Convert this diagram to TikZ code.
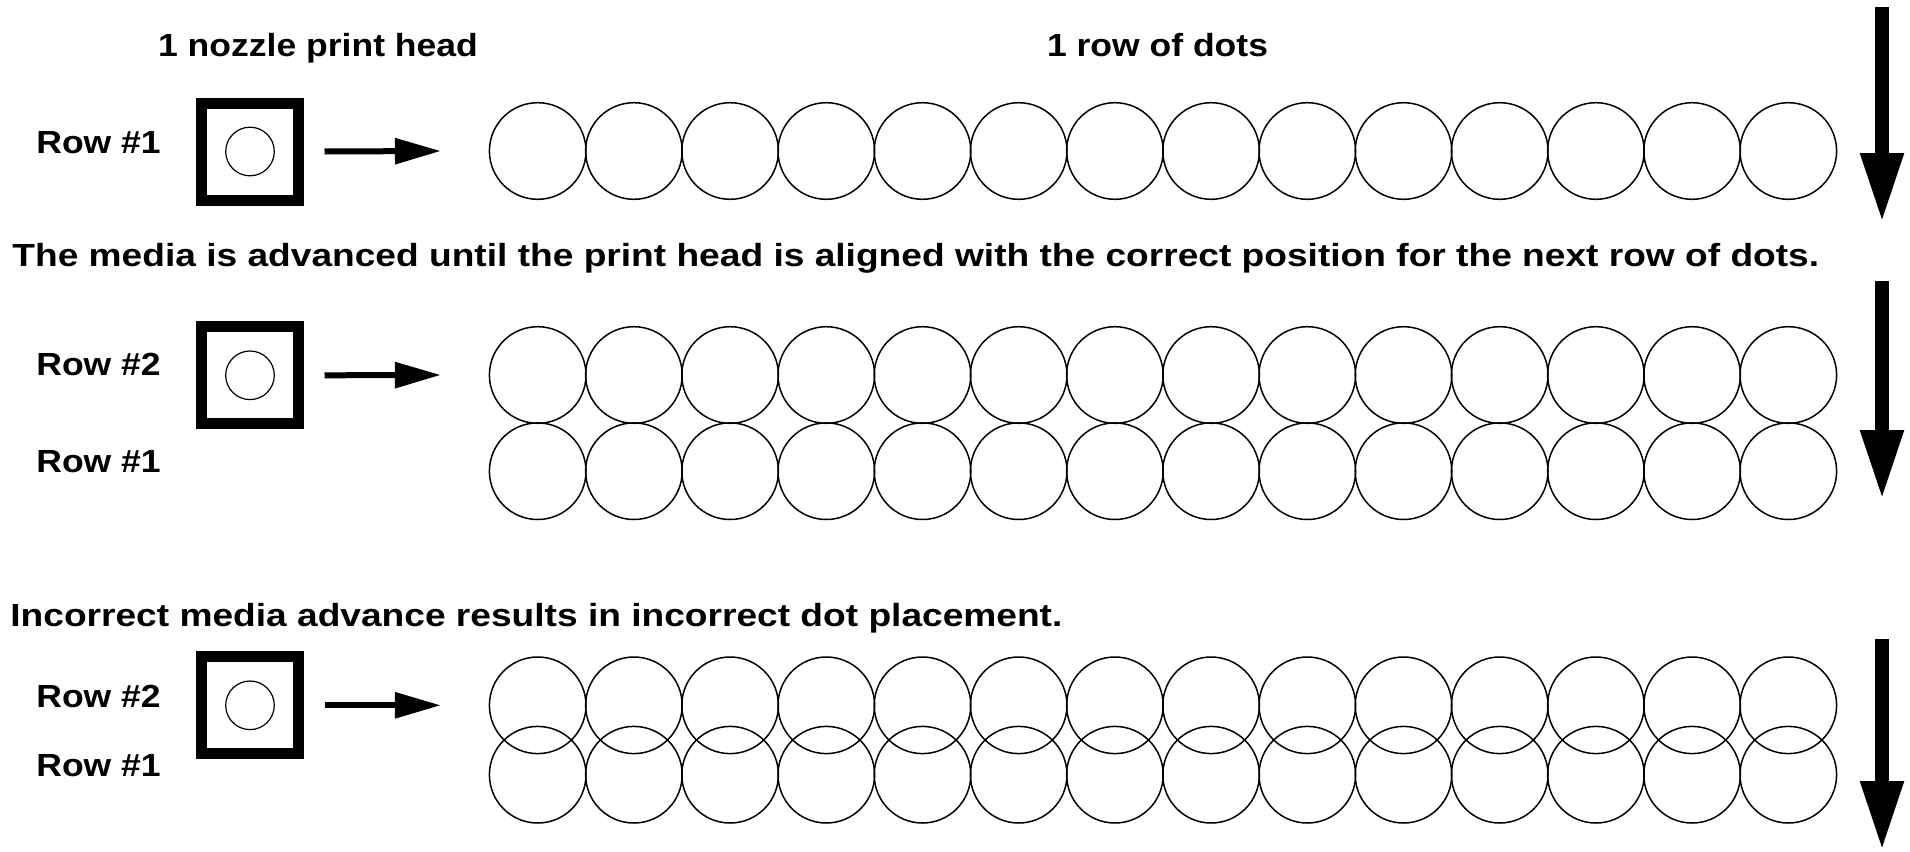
\documentclass[tikz,border=0pt]{standalone}
\usepackage{fontspec}
\setmainfont{Liberation Sans}
\usetikzlibrary{arrows.meta}
\newcommand{\wide}[1]{\scalebox{1.11}[1]{#1}}
\newcommand{\wider}[1]{\scalebox{1.16}[1]{#1}}
\tikzset{
 headbox/.style={draw, line width=5.5pt, minimum size=48.5pt, inner sep=0pt},
 nozzle/.style={draw, circle, line width=0.6pt, minimum size=24.3pt, inner sep=0pt},
 dot/.style={draw, circle, line width=0.75pt, minimum size=48.3pt, inner sep=0pt},
 feed/.style={line width=3pt, -{Triangle[length=23pt,width=12.5pt]}},
 advance/.style={line width=7pt, -{Triangle[length=35pt,width=20pt]}},
 lbl/.style={font=\fontsize{16}{19}\selectfont\bfseries, inner sep=0pt},
}
\begin{document}
\begin{tikzpicture}[x=0.5pt,y=-0.5pt]
\fill[white] (0,0) rectangle (1910,851);
\useasboundingbox (0,0) rectangle (1910,851);
% titles
\node[lbl, anchor=base] (t1) at (318,56) {\wide{1 nozzle print head}};
\node[lbl, anchor=base] (t2) at (1157.5,56) {\wide{1 row of dots}};
% ---- section 1
\node[headbox] (h1) at (250,151.5) {};
\node[nozzle] (n1) at (h1.center) {};
\node[lbl, anchor=base west] (r1a) at (36,153.5) {\wide{Row \#1}};
\foreach \k in {0,...,13} \node[dot] (a\k) at ({537.7+96.2*\k},151) {};
\draw[feed] ([xshift=10.25pt]h1.east) -- ([xshift=-23.85pt]a0.west);
\coordinate (d1s) at (1882,7);
\coordinate (d1e) at (1882,223);
\draw[advance] (d1s) -- (d1e);
% sentence
\node[lbl, anchor=base west] (s2) at (12,266.7) {\wider{The media is advanced until the print head is aligned with the correct position for the next row of dots.}};
% ---- section 2
\node[headbox] (h2) at (250,375.3) {};
\node[nozzle] (n2) at (h2.center) {};
\node[lbl, anchor=base west] (r2b) at (36,375) {\wide{Row \#2}};
\node[lbl, anchor=base west] (r2a) at (36,472) {\wide{Row \#1}};
\foreach \k in {0,...,13} {
  \node[dot] (b\k) at ({537.7+96.2*\k},375) {};
  \node[dot] (c\k) at ({537.7+96.2*\k},471.2) {};
}
\draw[feed] ([xshift=10.25pt]h2.east) -- ([xshift=-23.85pt]b0.west);
\coordinate (d2s) at (1882,281);
\coordinate (d2e) at (1882,500);
\draw[advance] (d2s) -- (d2e);
% sentence
\node[lbl, anchor=base west] (s3) at (10,626.7) {\wider{Incorrect media advance results in incorrect dot placement.}};
% ---- section 3
\node[headbox] (h3) at (250,705.3) {};
\node[nozzle] (n3) at (h3.center) {};
\node[lbl, anchor=base west] (r3b) at (36,707.3) {\wide{Row \#2}};
\node[lbl, anchor=base west] (r3a) at (36,776) {\wide{Row \#1}};
\foreach \k in {0,...,13} {
  \node[dot] (e\k) at ({537.7+96.2*\k},705.3) {};
  \node[dot] (f\k) at ({537.7+96.2*\k},774.7) {};
}
\draw[feed] ([xshift=10.25pt]h3.east) -- ([xshift=-23.85pt]e0.west);
\coordinate (d3s) at (1882,639);
\coordinate (d3e) at (1882,851);
\draw[advance] (d3s) -- (d3e);
\end{tikzpicture}
\end{document}
